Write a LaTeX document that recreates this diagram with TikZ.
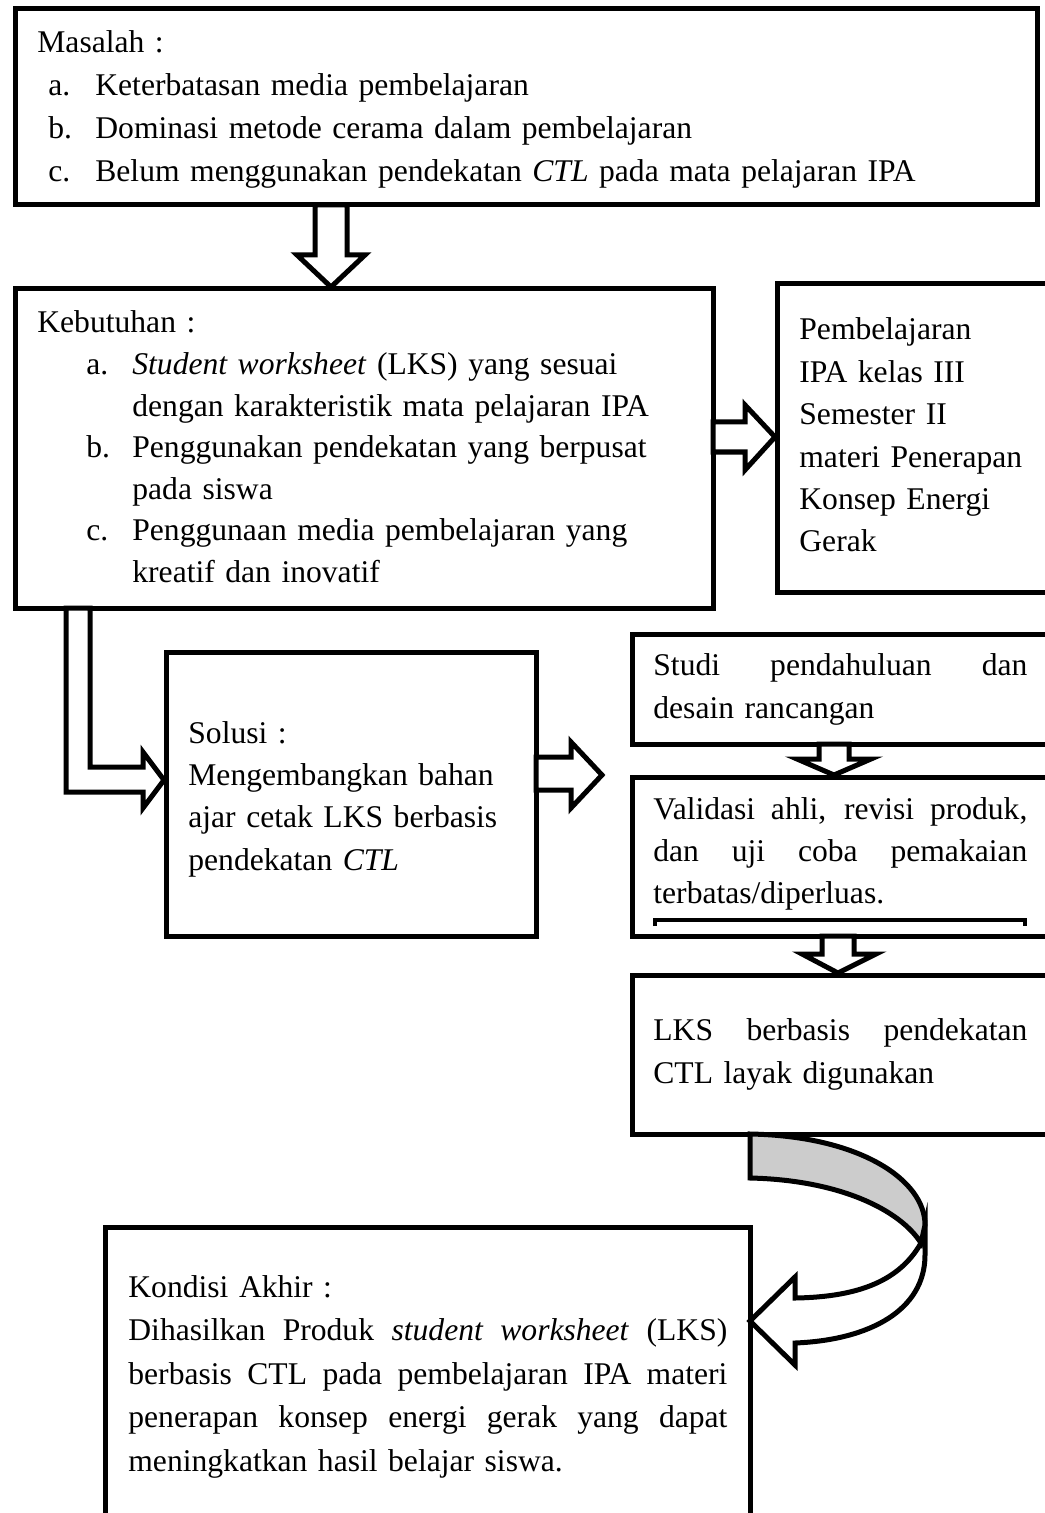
\documentclass[tikz,border=0pt]{standalone}
\usepackage{fontspec}
\setmainfont{Liberation Serif}
\usetikzlibrary{calc}

% justified line of given width
\newcommand\jl[2]{\leavevmode\hbox to #1{\spaceskip=\fontdimen2\font plus 1fil\relax #2}}

\tikzset{
  box/.style={draw, line width=2.5pt, inner sep=0pt, outer sep=0pt, anchor=north west},
  txt/.style={inner sep=0pt, anchor=base west, align=left, font=\fontsize{15.8}{21.5}\selectfont},
  blk/.style={draw, line width=2.5pt, fill=white, line join=miter},
}

\begin{document}
\begin{tikzpicture}[x=0.5pt, y=-0.5pt]
    \useasboundingbox (0,0) rectangle (1044,1513);

    % boxes
    \node[box, minimum width=511pt, minimum height=98pt] (masalah) at (15,9) {};
    \node[box, minimum width=349pt, minimum height=159.5pt] (kebutuhan) at (15,289) {};
    \node[box, minimum width=141.5pt, minimum height=154pt] (pembelajaran) at (777,284) {};
    \node[box, minimum width=185pt, minimum height=142pt] (solusi) at (166,652) {};
    \node[box, minimum width=215pt, minimum height=55pt] (studi) at (632,634) {};
    \node[box, minimum width=215pt, minimum height=79.5pt] (validasi) at (632,777) {};
    \node[box, minimum width=215pt, minimum height=79.5pt] (lks) at (632,975) {};
    \node[box, minimum width=322.5pt, minimum height=160pt] (kondisi) at (105,1227) {};

    % texts
    \node[txt, text width=480pt] (masalah-t) at (37,53) {Masalah :\\
        \hspace*{5.5pt}\makebox[23.5pt][l]{a.}Keterbatasan media pembelajaran\\
        \hspace*{5.5pt}\makebox[23.5pt][l]{b.}Dominasi metode cerama dalam pembelajaran\\
        \hspace*{5.5pt}\makebox[23.5pt][l]{c.}Belum menggunakan pendekatan \textit{CTL}\ pada mata pelajaran IPA};
    \node[txt, text width=330pt, font=\fontsize{15.8}{20.8}\selectfont] (kebutuhan-t) at (37,333) {Kebutuhan :\\
        \hspace*{24.5pt}\makebox[23pt][l]{a.}\textit{Student worksheet} (LKS) yang sesuai\\
        \hspace*{47.5pt}dengan karakteristik mata pelajaran IPA\\
        \hspace*{24.5pt}\makebox[23pt][l]{b.}Penggunakan pendekatan yang berpusat\\
        \hspace*{47.5pt}pada siswa\\
        \hspace*{24.5pt}\makebox[23pt][l]{c.}Penggunaan media pembelajaran yang\\
        \hspace*{47.5pt}kreatif dan inovatif};
    \node[txt, text width=120pt, font=\fontsize{15.8}{21.2}\selectfont] (pembelajaran-t) at (799,340) {Pembelajaran\\
        IPA kelas III\\Semester II\\materi Penerapan\\Konsep Energi\\Gerak};
    \node[txt, text width=170pt, font=\fontsize{15.8}{21.2}\selectfont] (solusi-t) at (188,743) {Solusi :\\
        Mengembangkan bahan\\ajar cetak LKS berbasis\\pendekatan \textit{CTL}};
    \node[txt, text width=187pt] (studi-t) at (653,675) {\jl{187pt}{Studi pendahuluan dan}\\desain rancangan};
    \node[txt, text width=187pt, font=\fontsize{15.8}{21}\selectfont] (validasi-t) at (653,819) {\jl{187pt}{Validasi ahli, revisi produk,}\\
        \jl{187pt}{dan uji coba pemakaian}\\terbatas/diperluas.};
    \node[txt, text width=187pt] (lks-t) at (653,1040) {\jl{187pt}{LKS berbasis pendekatan}\\CTL layak digunakan};
    \node[txt, text width=299.5pt, font=\fontsize{15.8}{21.8}\selectfont] (kondisi-t) at (128,1297) {Kondisi Akhir :\\
        \jl{299.5pt}{Dihasilkan Produk \textit{student worksheet} (LKS)}\\
        \jl{299.5pt}{berbasis CTL pada pembelajaran IPA materi}\\
        \jl{299.5pt}{penerapan konsep energi gerak yang dapat}\\
        meningkatkan hasil belajar siswa.};

    \draw[line width=2pt] (655,926) -- (655,920) -- (1025,920) -- (1025,926);

    % block arrows
    \draw[blk] (masalah.south -| 315,0) -- ++(0,50) -- ++(-18,0) -- ++(34,32) -- ++(34,-32) -- ++(-18,0) -- (masalah.south -| 347,0) -- cycle;
    \draw[blk] (kebutuhan.east |- 0,422) -- ++(32,0) -- ++(0,-17) -- ++(30,32) -- ++(-30,33) -- ++(0,-18) -- (kebutuhan.east |- 0,452) -- cycle;
    \draw[blk] (kebutuhan.south -| 66,0) -- (66,792) -- ++(77,0) -- ++(0,16) -- ++(21,-28) -- ++(-21,-28) -- ++(0,15) -- (90,767) -- (kebutuhan.south -| 90,0) -- cycle;
    \draw[blk] (solusi.east |- 0,757) -- ++(35,0) -- ++(0,-15) -- ++(31,33) -- ++(-31,33) -- ++(0,-18) -- (solusi.east |- 0,790) -- cycle;
    \draw[blk] (studi.south -| 819,0) -- ++(0,15) -- ++(-22,0) -- ++(37,16) -- ++(37,-16) -- ++(-22,0) -- (studi.south -| 849,0) -- cycle;
    \draw[blk] (validasi.south -| 822,0) -- ++(0,18) -- ++(-20,0) -- ++(36,19) -- ++(38,-19) -- ++(-22,0) -- (validasi.south -| 854,0) -- cycle;

    % curved arrow
    \draw[blk] (921,1243) .. controls (900,1280) and (860,1297) .. (795,1298) -- (795,1277) -- (kondisi.east |- 0,1321) -- (795,1365) -- (795,1343) .. controls (870,1340) and (925,1310) .. (925,1255) -- (925,1225) -- cycle;
    \draw[blk, fill=black!20] (lks.south -| 750,0) .. controls (860,1136) and (925,1180) .. (925,1225) -- (921,1243) .. controls (900,1210) and (840,1180) .. (750,1178) -- cycle;
\end{tikzpicture}
\end{document}
